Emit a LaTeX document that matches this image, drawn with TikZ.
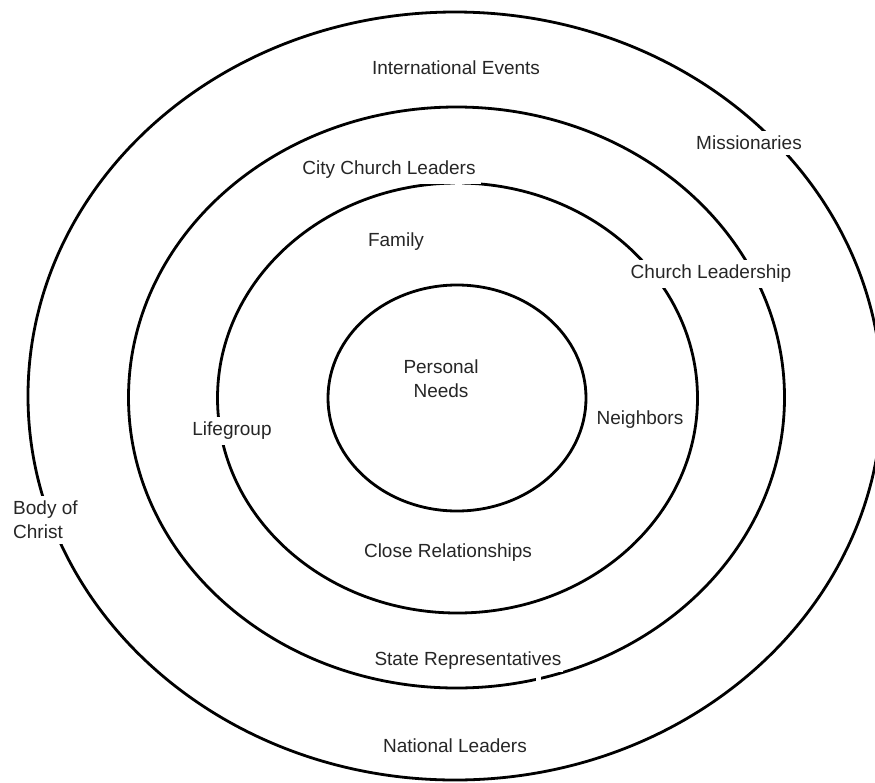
\documentclass[tikz,border=0pt]{standalone}
\usepackage{fontspec}
\setmainfont{Liberation Sans}
\begin{document}
\begin{tikzpicture}[x=1pt,y=1pt]
    \tikzstyle{every node}+=[inner sep=5pt]
    \tikzstyle{ring}=[black, line width=2.8pt]
    \tikzstyle{ringlabel}=[fill=white, text=black!85, font=\fontsize{19}{24}\selectfont, align=center]
    \useasboundingbox (0,0) rectangle (875,-782);
    % rings, from the inside out
    \draw [ring] (457,-398) ellipse (129 and 113);
    \draw [ring] (457.5,-398) ellipse (240 and 215);
    \draw [ring] (456.5,-397.5) ellipse (328 and 290.5);
    \draw [ring] (455,-396) ellipse (427 and 384);
    % small breaks in the rings
    \fill [white] (455,-178) rectangle (462,-189);
    \fill [white] (536,-674) rectangle (541,-686);
    % labels
    \node [ringlabel] (needs) at (441,-379) {Personal\\Needs};
    \node [ringlabel] (family) at (396,-242) {Family};
    \node [ringlabel] (neighbors) at (640,-420) {Neighbors};
    \node [ringlabel] (lifegroup) at (232,-431) {Lifegroup};
    \node [ringlabel] (close) at (448,-553) {Close Relationships};
    \node [ringlabel] (city) at (389,-170) {City Church Leaders};
    \node [ringlabel] (leadership) at (711,-274) {Church Leadership};
    \node [ringlabel, inner sep=2pt] (state) at (468,-661) {State Representatives};
    \node [ringlabel] (intl) at (456,-68) {International Events};
    \node [ringlabel] (missionaries) at (749,-143) {Missionaries};
    \node [ringlabel, align=left, anchor=west] (body) at (8,-520) {Body of\\Christ};
    \node [ringlabel] (national) at (455,-746) {National Leaders};
\end{tikzpicture}
\end{document}
